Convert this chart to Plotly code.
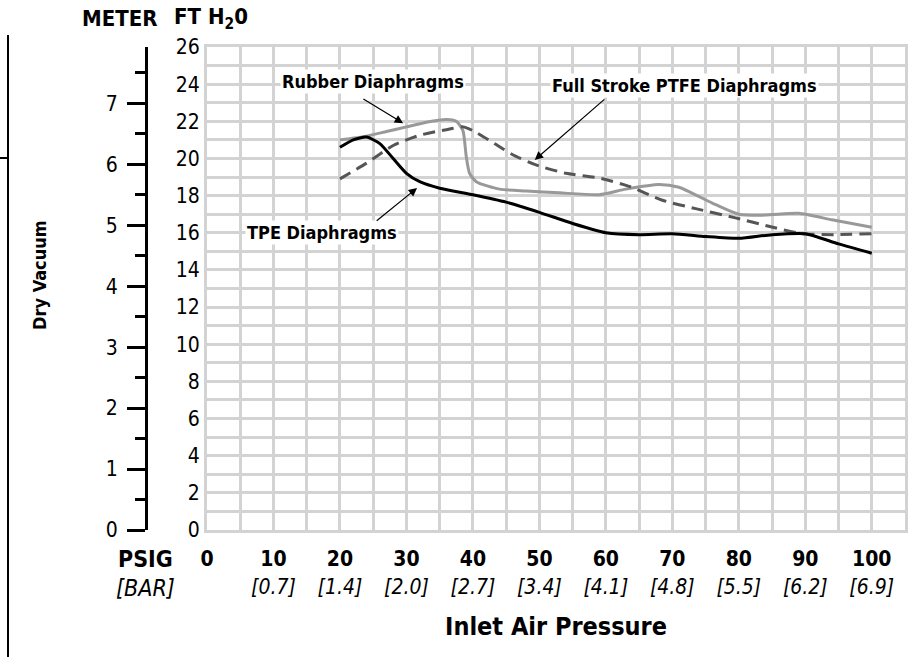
import plotly.graph_objects as go

# ---------------- data ----------------
tpe_x = [20, 22, 24, 26, 28, 30, 32, 35, 40, 45, 50, 55, 60, 65, 70, 75, 80, 85, 90, 95, 100]
tpe_y = [20.6, 21.0, 21.15, 20.8, 20.0, 19.2, 18.75, 18.4, 18.05, 17.65, 17.1, 16.5, 16.0, 15.9, 15.95, 15.8, 15.7, 15.9, 15.95, 15.4, 14.9]

rub_x = [20, 24, 27, 30, 33, 36, 37.5, 38.5, 39, 39.5, 40.5, 44, 48, 53, 59, 63, 68, 71, 76, 80, 84, 89, 94, 100]
rub_y = [21.0, 21.2, 21.45, 21.7, 21.95, 22.1, 22.0, 21.5, 20.1, 19.2, 18.75, 18.35, 18.25, 18.15, 18.05, 18.35, 18.6, 18.45, 17.6, 17.0, 16.95, 17.05, 16.7, 16.3]

ptfe_x = [20, 24, 28, 32, 36, 38.5, 40, 43.5, 46, 49.5, 54, 59, 63.5, 68.5, 73.5, 79.5, 84.5, 89.5, 94.5, 100]
ptfe_y = [18.9, 19.75, 20.7, 21.25, 21.55, 21.7, 21.5, 20.75, 20.2, 19.65, 19.2, 18.95, 18.5, 17.75, 17.3, 16.8, 16.35, 15.95, 15.9, 15.95]

psig_ticks = [0, 10, 20, 30, 40, 50, 60, 70, 80, 90, 100]
bar_labels = ["", "[0.7]", "[1.4]", "[2.0]", "[2.7]", "[3.4]", "[4.1]", "[4.8]", "[5.5]", "[6.2]", "[6.9]"]
ft_ticks = list(range(0, 27, 2))
meter_ticks = list(range(0, 8))
FT_PER_M = 3.28084

FONT = "DejaVu Sans Condensed, Liberation Sans Narrow, Arial Narrow, sans-serif"
W, H = 914, 657
GRID = "#d3d3d3"

def px(x):
    return x / W

def py(y):
    return 1 - y / H

fig = go.Figure()
fig.add_trace(go.Scatter(x=rub_x, y=rub_y, mode="lines", line=dict(color="#999999", width=3, shape="spline", smoothing=0.6), name="Rubber"))
fig.add_trace(go.Scatter(x=ptfe_x, y=ptfe_y, mode="lines", line=dict(color="#555555", width=3, dash="12px,7px", shape="spline", smoothing=0.6), name="PTFE"))
fig.add_trace(go.Scatter(x=tpe_x, y=tpe_y, mode="lines", line=dict(color="#000000", width=3, shape="spline", smoothing=0.6), name="TPE"))
# invisible trace to activate the meter axis
fig.add_trace(go.Scatter(x=[None], y=[None], yaxis="y2", showlegend=False))

ticktext = []
for v, b in zip(psig_ticks, bar_labels):
    if b:
        ticktext.append(f"<b>{v}</b><br><i>{b}</i>")
    else:
        ticktext.append(f"<b>{v}</b>")

fig.update_layout(
    width=W, height=H,
    margin=dict(l=0, r=0, t=0, b=0, autoexpand=False),
    paper_bgcolor="white", plot_bgcolor="white",
    showlegend=False,
    font=dict(family=FONT, color="black", size=21),
    xaxis=dict(
        domain=[px(207), px(905)], range=[0, 105], automargin=False,
        tickvals=psig_ticks, ticktext=ticktext, ticks="", ticklabelstandoff=8,
        tickfont=dict(size=21, family=FONT),
        showgrid=True, gridcolor=GRID, gridwidth=3,
        minor=dict(dtick=5, tick0=0, showgrid=True, gridcolor=GRID, gridwidth=3),
        showline=True, linecolor=GRID, linewidth=3, mirror=True,
        zeroline=False, fixedrange=True,
        title=dict(text="<b>Inlet Air Pressure</b>", font=dict(size=25, family=FONT), standoff=20),
    ),
    yaxis=dict(
        domain=[py(530), py(47)], range=[0, 26], automargin=False,
        tickvals=ft_ticks, ticks="", ticklabelstandoff=0,
        tickfont=dict(size=21, family=FONT),
        showgrid=True, gridcolor=GRID, gridwidth=3,
        minor=dict(dtick=1, tick0=0, showgrid=True, gridcolor=GRID, gridwidth=3),
        showline=True, linecolor=GRID, linewidth=3, mirror=True,
        zeroline=False, fixedrange=True,
    ),
    yaxis2=dict(
        overlaying="y", anchor="free", position=px(146), side="left",
        range=[0, 26 / FT_PER_M], automargin=False,
        tickvals=meter_ticks, ticks="outside", ticklen=18, tickwidth=3, tickcolor="black",
        ticklabelstandoff=5, tickfont=dict(size=21, family=FONT),
        minor=dict(dtick=0.5, tick0=0, ticks="outside", ticklen=10, tickwidth=3, tickcolor="black", showgrid=False),
        showline=True, linecolor="black", linewidth=3,
        showgrid=False, zeroline=False, fixedrange=True,
    ),
)

annots = [
    dict(text="<b>METER</b>", x=px(120), y=py(19), font=dict(size=22)),
    dict(text="<b>FT H<sub>2</sub>0</b>", x=px(211), y=py(19), font=dict(size=22)),
    dict(text="<b>Dry Vacuum</b>", x=px(40), y=py(275), font=dict(size=18), textangle=-90),
    dict(text="<b>PSIG</b>", x=px(145), y=py(559), font=dict(size=23)),
    dict(text="<i>[BAR]</i>", x=px(145), y=py(588), font=dict(size=23)),
]
for a in annots:
    fig.add_annotation(xref="paper", yref="paper", showarrow=False, xanchor="center", yanchor="middle", **a)

labels = [
    ("<b>Rubber Diaphragms</b>", 24.97, 24.12),
    ("<b>TPE Diaphragms</b>", 17.3, 16.04),
    ("<b>Full Stroke PTFE Diaphragms</b>", 71.9, 23.95),
]
for t, x, y in labels:
    fig.add_annotation(x=x, y=y, xref="x", yref="y", text=t, showarrow=False,
                       bgcolor="white", borderpad=1, font=dict(size=18))

arrows = [
    (29.5, 21.9, 23.3, 23.25),
    (31.6, 18.41, 25.3, 16.58),
    (49.3, 19.92, 60.0, 23.25),
]
for hx, hy, tx, ty in arrows:
    fig.add_annotation(x=hx, y=hy, ax=tx, ay=ty, xref="x", yref="y", axref="x", ayref="y",
                       text="", showarrow=True, arrowhead=2, arrowsize=1.4, arrowwidth=1.2, arrowcolor="black")

# stray frame line at far left of the picture
fig.add_shape(type="line", xref="paper", yref="paper", x0=px(8), x1=px(8), y0=py(35), y1=py(657), line=dict(color="black", width=2))
fig.add_shape(type="line", xref="paper", yref="paper", x0=px(0), x1=px(8), y0=py(158), y1=py(158), line=dict(color="black", width=2))

fig.write_html("out.html", config={"displayModeBar": False, "staticPlot": True},
               post_script="document.body.style.margin='0px';document.body.style.overflow='hidden';")
